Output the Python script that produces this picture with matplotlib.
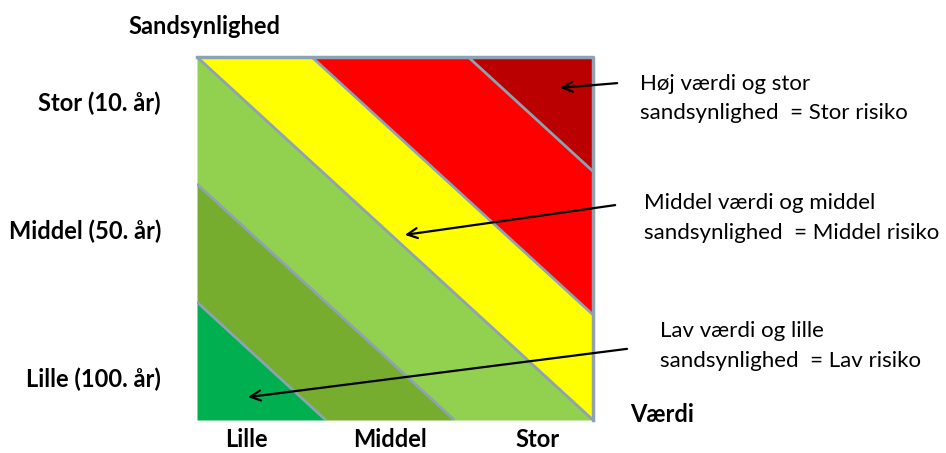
import matplotlib
matplotlib.use("Agg")
import matplotlib.pyplot as plt
import numpy as np

# risk bands: boundaries along the diagonal (value + probability)
band_edges = [0.0, 0.325, 0.65, 1.0, 1.29, 1.685, 2.0]
band_colors = ["#00B050", "#77AD2F", "#92D050", "#FFFF00", "#FF0000", "#BA0000"]

x_labels = ["Lille", "Middel", "Stor"]
x_label_pos = [0.126, 0.487, 0.859]
y_labels = ["Lille (100. år)", "Middel (50. år)", "Stor (10. år)"]
y_label_pos = [0.118, 0.526, 0.879]

notes = [
    "Høj værdi og stor\nsandsynlighed  = Stor risiko",
    "Middel værdi og middel\nsandsynlighed  = Middel risiko",
    "Lav værdi og lille\nsandsynlighed  = Lav risiko",
]
note_text_xy = [(1.119, 0.886), (1.129, 0.556), (1.169, 0.204)]
note_tail_xy = [(1.061, 0.928), (1.056, 0.592), (1.086, 0.196)]
note_tip_xy = [(0.917, 0.915), (0.525, 0.510), (0.129, 0.063)]

plt.rcParams["font.family"] = ["Lato", "DejaVu Sans"]

W, H = 946, 453
fig = plt.figure(figsize=(W / 100, H / 100), dpi=100)
ax = fig.add_axes([197 / W, (H - 420) / H, 396 / W, 363 / H])
ax.set_xlim(0, 1)
ax.set_ylim(0, 1)

edge_gray = "#8DA2B2"
xs = np.linspace(0, 1, 801)
for lo, hi, col in zip(band_edges[:-1], band_edges[1:], band_colors):
    y_lo = np.clip(lo - xs, 0, 1)
    y_hi = np.clip(hi - xs, 0, 1)
    ax.fill_between(xs, y_lo, y_hi, color=col, lw=0)

for c in band_edges[1:-1]:
    x0, x1 = max(0.0, c - 1), min(1.0, c)
    ax.plot([x0, x1], [c - x0, c - x1], color=edge_gray, lw=2, solid_capstyle="butt")

# gray frame on top and right
ax.plot([0, 1, 1], [1, 1, 0], color=edge_gray, lw=2.5, clip_on=False)

for s in ax.spines.values():
    s.set_visible(False)

# axis arrows
ax.annotate("", xy=(0, 1.005), xytext=(0, 0), xycoords="data",
            arrowprops=dict(arrowstyle="->", lw=2, color="black",
                            shrinkA=0, shrinkB=0, mutation_scale=18))
ax.annotate("", xy=(1.012, 0), xytext=(0, 0), xycoords="data",
            arrowprops=dict(arrowstyle="->", lw=2, color="black",
                            shrinkA=0, shrinkB=0, mutation_scale=18))

ax.set_xticks(x_label_pos, x_labels, fontsize=17, fontweight="bold")
ax.set_yticks(y_label_pos, y_labels, fontsize=17, fontweight="bold")
ax.tick_params(axis="x", length=0, pad=6)
ax.tick_params(axis="y", length=0, pad=26)

ax.text(0.02, 1.083, "Sandsynlighed", ha="center", va="center",
        fontsize=17, fontweight="bold")
ax.text(1.093, 0.014, "Værdi", ha="left", va="center",
        fontsize=17, fontweight="bold")

for txt, txy, tail, tip in zip(notes, note_text_xy, note_tail_xy, note_tip_xy):
    ax.text(txy[0], txy[1], txt, ha="left", va="center", fontsize=16,
            linespacing=1.6, clip_on=False)
    ax.annotate("", xy=tip, xytext=tail, xycoords="data",
                arrowprops=dict(arrowstyle="->", lw=1.6, color="black",
                                shrinkA=0, shrinkB=0, mutation_scale=18),
                annotation_clip=False)

fig.savefig("out.png", dpi=100)
